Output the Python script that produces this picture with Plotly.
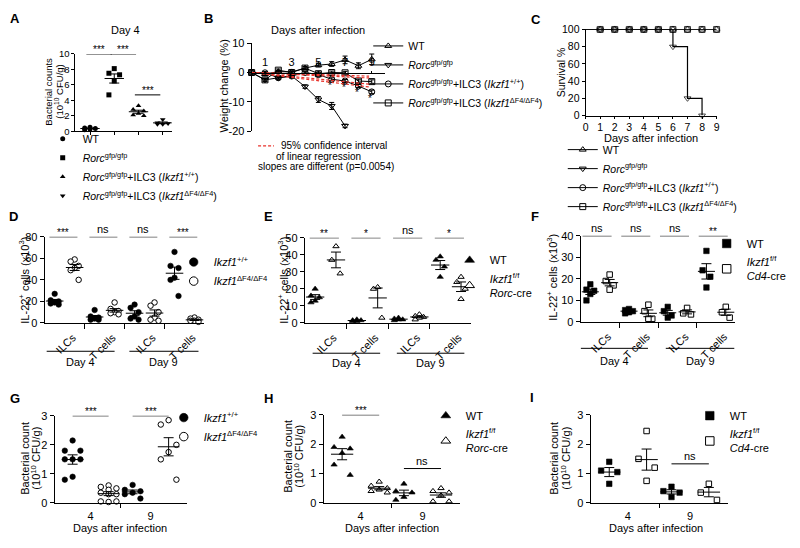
import numpy as np
import plotly.graph_objects as go

# ===================== DATA =====================
# Panel A - bacterial counts at day 4 (10^10 CFU/g)
a_wt = [0.5, 0.4, 0.35, 0.3, 0.2]
a_rorc = [8.1, 7.5, 7.3, 6.5, 4.7]
a_ilc3_wt = [3.3, 2.8, 2.6, 2.3, 2.1, 2.0]
a_ilc3_df4 = [1.5, 1.1, 1.0, 0.9, 0.9]
a_sig = ["***", "***", "***", "***"]

# Panel B - weight change (%) by day after infection
b_days = [0, 1, 2, 3, 4, 5, 6, 7, 8, 9]
b_wt = [0, -0.5, 0.3, 0.2, 1.5, 2.5, 2.9, 4.3, 2.3, 4.5]
b_wt_sem = [0, 0.5, 0.4, 0.4, 0.5, 0.6, 0.8, 1.3, 1.0, 1.8]
b_rorc_days = [0, 1, 2, 3, 4, 5, 6, 7]
b_rorc = [0, -2.5, -1.8, -1.2, -4.8, -9.2, -11.4, -18.2]
b_rorc_sem = [0, 0.6, 0.5, 0.5, 0.6, 1.0, 1.2, 0.6]
b_ilc_wt = [0, -0.1, -1.8, -1.2, 0.0, -0.7, -2.3, -2.9, -4.6, -6.6]
b_ilc_wt_sem = [0, 0.4, 0.4, 0.4, 0.4, 0.4, 0.5, 0.5, 0.5, 0.6]
b_ilc_df4 = [0, -2.5, 0.8, 0.0, 1.5, -0.4, 0.0, -0.1, -2.9, -3.1]
b_ilc_df4_sem = [0, 0.4, 0.4, 0.4, 0.5, 0.5, 0.5, 0.5, 0.6, 0.6]
b_sig = ["*", "*", "*", "*"]          # days 6-9
b_sig_days = [6, 7, 8, 9]
b_ci_slopes = [-0.14, -0.21, -0.45, -0.56]   # 95% CI of regression slopes (%/day)
b_ci_days = [0, 8.8]

# Panel C - survival (%)
c_days = [0, 1, 2, 3, 4, 5, 6, 7, 8, 9]
c_wt = [100, 100, 100, 100, 100, 100, 100, 100, 100, 100]
c_ilc_wt = [100, 100, 100, 100, 100, 100, 100, 100, 100, 100]
c_ilc_df4 = [100, 100, 100, 100, 100, 100, 100, 100, 100, 100]
c_rorc_days = [0, 1, 2, 3, 4, 5, 6, 7, 8]
c_rorc = [100, 100, 100, 100, 100, 100, 80, 20, 0]

# Panels D-F - IL-22+ cells (x10^3); groups: ILCs d4, T cells d4, ILCs d9, T cells d9
cat_labels = ["ILCs", "T cells", "ILCs", "T cells"]
d_wt = [[27, 21, 20, 19, 18, 17], [12, 6, 5, 4, 3, 3], [17, 14, 10, 6, 4, 3], [66, 53, 51, 42, 40, 25]]
d_ko = [[59, 57, 53, 51, 49, 40], [19, 13, 11, 10, 9, 8], [19, 16, 10, 5, 3, 2], [5, 4, 3, 2, 2, 1]]
d_sig = ["***", "ns", "ns", "***"]
e_wt = [[20, 16, 15, 13, 12], [2, 1.5, 1.5, 1, 1], [3, 2.5, 2, 2, 1.5], [39, 37, 33, 27]]
e_ko = [[45, 37, 29], [21, 20, 3], [5, 4, 3.5, 3, 2], [27, 24, 20, 14]]
e_sig = ["**", "*", "ns", "*"]
f_wt = [[17.5, 15, 14.5, 13, 10], [6, 5.5, 5, 4.5, 4], [7, 5, 3, 2], [33, 24, 21, 16]]
f_ko = [[22, 19, 17, 15], [8, 5, 1.5, 1.5], [6.5, 4, 3.5], [7, 4.5, 2]]
f_sig = ["ns", "ns", "ns", "**"]

# Panels G-I - bacterial count (10^10 CFU/g); days 4 and 9
day_labels = ["4", "9"]
g_wt = [[2.15, 1.8, 1.8, 1.5, 1.5, 1.5, 0.9, 0.8], [0.62, 0.45, 0.4, 0.35, 0.3, 0.15]]
g_ko = [[0.6, 0.55, 0.5, 0.45, 0.35, 0.3, 0.3, 0.05, 0.05, 0.03], [2.85, 2.7, 2.0, 1.75, 1.5, 0.8]]
g_sig = ["***", "***"]
h_wt = [[2.25, 1.9, 1.85, 1.7, 1.3, 0.95], [0.65, 0.4, 0.35, 0.2, 0.1]]
h_ko = [[0.72, 0.58, 0.5, 0.45, 0.4, 0.35], [0.5, 0.4, 0.35, 0.25, 0.05, 0.05]]
h_sig = ["***", "ns"]
i_wt = [[1.4, 1.1, 1.05, 0.65], [0.55, 0.4, 0.35, 0.2]]
i_ko = [[2.45, 1.5, 1.2, 0.75], [0.65, 0.35, 0.1]]
i_sig = ["ns", "ns"]

RORC = "<i>Rorc</i><sup>gfp/gfp</sup>"
NAMES_ABC = ["WT", RORC,
             RORC + "+ILC3 (<i>Ikzf1</i><sup>+/+</sup>)",
             RORC + "+ILC3 (<i>Ikzf1</i><sup>ΔF4/ΔF4</sup>)"]
NAMES_DG = ["<i>Ikzf1</i><sup>+/+</sup>", "<i>Ikzf1</i><sup>ΔF4/ΔF4</sup>"]
NAMES_EH = ["WT", "<i>Ikzf1</i><sup>f/f</sup><br><i>Rorc</i>-cre"]
NAMES_FI = ["WT", "<i>Ikzf1</i><sup>f/f</sup><br><i>Cd4</i>-cre"]

# ===================== HELPERS =====================
FONT = "Liberation Sans, Arial, sans-serif"
W, H = 800, 548
RED = "#e8322b"


def X(p):
    return p / W


def Y(p):
    return 1 - p / H


traces, shapes, annotations = [], [], []
layout = {}

AX = dict(showline=True, linecolor="black", linewidth=1, ticks="outside", ticklen=4,
          tickwidth=1, tickcolor="black", showgrid=False, zeroline=False,
          tickfont=dict(family=FONT, size=11, color="black"), fixedrange=True)


def axes(n, x0, x1, ytop, ybot, xr, yr, xkw=None, ykw=None):
    s = "" if n == 1 else str(n)
    xa = dict(AX)
    xa.update(domain=[X(x0), X(x1)], range=xr, anchor="y" + s)
    ya = dict(AX)
    ya.update(domain=[Y(ybot), Y(ytop)], range=yr, anchor="x" + s)
    if xkw:
        xa.update(xkw)
    if ykw:
        ya.update(ykw)
    layout["xaxis" + s] = xa
    layout["yaxis" + s] = ya
    return "x" + s, "y" + s


def text(x, y, s, size=11, angle=0, xanchor="center"):
    annotations.append(dict(xref="paper", yref="paper", x=X(x), y=Y(y), text=s,
                            showarrow=False, xanchor=xanchor, yanchor="middle",
                            textangle=angle, font=dict(family=FONT, size=size, color="black")))


PATTERN = np.array([0.0, -1.0, 1.0])


def jitter(vals, spread):
    v = np.sort(np.asarray(vals, float))[::-1]
    off = PATTERN[np.arange(len(v)) % 3] * spread
    return v, off


def mean_sem(xa, ya, xc, vals, half, cap):
    v = np.asarray(vals, float)
    m = v.mean()
    sem = v.std(ddof=1) / np.sqrt(len(v))
    traces.append(go.Scatter(
        x=[xc], y=[m], xaxis=xa, yaxis=ya, mode="markers",
        marker=dict(size=1, color="rgba(0,0,0,0)"),
        error_x=dict(type="constant", value=half, width=0, thickness=1, color="black"),
        error_y=dict(type="data", array=[sem], width=cap, thickness=1, color="black"),
        showlegend=False, hoverinfo="skip"))


def marker(sym, size, filled):
    return dict(symbol=sym, size=size, color="black" if filled else "white",
                line=dict(color="black", width=0.6 if filled else 1))


def legend_only(xa, ya, name, legend, mode, mk, line=None):
    traces.append(go.Scatter(x=[None], y=[None], xaxis=xa, yaxis=ya, mode=mode,
                             marker=mk, line=line or dict(color="black", width=1),
                             name=name, legend=legend, showlegend=True, hoverinfo="skip"))


def sig(xa, ya, x0, x1, level, label):
    shapes.append(dict(type="line", xref=xa, yref=ya, x0=x0, x1=x1, y0=level, y1=level,
                       line=dict(color="black", width=1)))
    star = "*" in label
    annotations.append(dict(xref=xa, yref=ya, x=(x0 + x1) / 2, y=level, text=label,
                            showarrow=False, yanchor="bottom", yshift=-3 if star else 0,
                            font=dict(family=FONT, size=10 if star else 11, color="black")))


def dot_panel(xa, ya, wt, ko, sym, off, spread, half, legend, names):
    for gi, (vw, vk) in enumerate(zip(wt, ko)):
        for sgn, vals, filled in ((-1, vw, True), (1, vk, False)):
            v, o = jitter(vals, spread)
            xc = gi + sgn * off
            traces.append(go.Scatter(x=xc + o, y=v, xaxis=xa, yaxis=ya, mode="markers",
                                     marker=marker(sym, 5.5, filled), showlegend=False,
                                     cliponaxis=False, hoverinfo="skip"))
            mean_sem(xa, ya, xc, vals, half, 5)
    legend_only(xa, ya, names[0], legend, "markers", marker(sym, 8.5, True))
    legend_only(xa, ya, names[1], legend, "markers", marker(sym, 8.5, False))


def legend_cfg(xpx, ytop, size):
    return dict(x=X(xpx), y=Y(ytop), xanchor="left", yanchor="top",
                bgcolor="rgba(0,0,0,0)", borderwidth=0,
                font=dict(family=FONT, size=size, color="black"),
                itemclick=False, itemdoubleclick=False, tracegroupgap=0, traceorder="normal")


# ===================== PANEL A =====================
xa, ya = axes(1, 73, 170, 49, 128, [-0.6, 3.37], [0, 10],
              xkw=dict(tickvals=[0, 1, 2, 3], showticklabels=False, ticklen=3),
              ykw=dict(tickvals=[0, 2, 4, 6, 8, 10], ticklen=3,
                       tickfont=dict(family=FONT, size=9.5, color="black")))
a_sets = [a_wt, a_rorc, a_ilc3_wt, a_ilc3_df4]
a_syms = ["circle", "square", "triangle-up", "triangle-down"]
for i, (vals, sym, nm) in enumerate(zip(a_sets, a_syms, NAMES_ABC)):
    v, o = jitter(vals, 0.22)
    traces.append(go.Scatter(x=i + o, y=v, xaxis=xa, yaxis=ya, mode="markers",
                             marker=dict(symbol=sym, size=5, color="black"),
                             showlegend=False, cliponaxis=False, hoverinfo="skip"))
    mean_sem(xa, ya, i, vals, 0.4, 5)
    legend_only(xa, ya, nm, "legend", "markers", dict(symbol=sym, size=5, color="black"))
for (p, q, lvl), lab in zip([(0, 1, 10), (1, 2, 10), (1, 3, 11), (2, 3, 4.7)], a_sig):
    sig(xa, ya, p - 0.15, q - 0.1, lvl, lab)
text(123, 25, "Day 4", 11)
text(45, 88, "Bacterial counts", 9.5, -90)
text(57, 88, "(10<sup>10</sup> CFU/g)", 9.5, -90)
layout["legend"] = legend_cfg(40, 121, 10.5)

# ===================== PANEL B =====================
xa, ya = axes(2, 250.5, 385, 38, 128, [0, 10], [-20, 10],
              xkw=dict(anchor="free", position=Y(68), side="top", tickvals=[1, 3, 5, 7, 9],
                       ticklen=2),
              ykw=dict(tickvals=[10, 0, -10, -20], ticktext=["10", "0", "-10", "-20"]))
b_series = [(b_days, b_wt, b_wt_sem, "triangle-up-open"),
            (b_rorc_days, b_rorc, b_rorc_sem, "triangle-down-open"),
            (b_days, b_ilc_wt, b_ilc_wt_sem, "circle-open"),
            (b_days, b_ilc_df4, b_ilc_df4_sem, "square-open")]
for (dx, dy, de, sym), nm in zip(b_series, NAMES_ABC):
    traces.append(go.Scatter(x=dx, y=dy, xaxis=xa, yaxis=ya, mode="lines+markers",
                             line=dict(color="black", width=1),
                             marker=dict(symbol=sym, size=6, color="black", line=dict(width=1)),
                             error_y=dict(type="data", array=de, width=2.5, thickness=1, color="black"),
                             showlegend=False, cliponaxis=False, hoverinfo="skip"))
    legend_only(xa, ya, nm, "legend2", "lines+markers",
                dict(symbol=sym, size=6, color="black", line=dict(width=1)))
for s in b_ci_slopes:
    traces.append(go.Scatter(x=b_ci_days, y=[s * d for d in b_ci_days], xaxis=xa, yaxis=ya,
                             mode="lines", line=dict(color=RED, width=1.2, dash="3px,2px"),
                             showlegend=False, hoverinfo="skip"))
ilc_by_day = dict(zip(b_days, b_ilc_wt))
for d, lab in zip(b_sig_days, b_sig):
    annotations.append(dict(xref=xa, yref=ya, x=d - 0.1, y=ilc_by_day[d] - 2.2, text=lab,
                            showarrow=False, font=dict(family=FONT, size=10, color="black")))
text(317, 25, "Days after infection", 11)
text(223, 82, "Weight change (%)", 11, -90)
shapes.append(dict(type="line", xref="paper", yref="paper", x0=X(257), x1=X(273),
                   y0=Y(143), y1=Y(143), line=dict(color=RED, width=1.2, dash="3px,2px")))
text(278, 143, "95% confidence interval", 10, xanchor="left")
text(318, 154, "of linear regression", 10)
text(325, 164, "slopes are different (p=0.0054)", 10)
layout["legend2"] = legend_cfg(368, 26, 10.5)

# ===================== PANEL C =====================
xa, ya = axes(3, 587, 719, 24, 112, [0, 9], [0, 100],
              xkw=dict(dtick=1, ticklen=2, tickfont=dict(family=FONT, size=10.5, color="black")),
              ykw=dict(dtick=20, ticklen=3, tickfont=dict(family=FONT, size=10.5, color="black")))
c_series = [(c_days, c_wt, "triangle-up-open"),
            (c_rorc_days, c_rorc, "triangle-down-open"),
            (c_days, c_ilc_wt, "circle-open"),
            (c_days, c_ilc_df4, "square-open")]
for (dx, dy, sym), nm in zip(c_series, NAMES_ABC):
    sizes = [0] + [6] * (len(dx) - 1)
    traces.append(go.Scatter(x=dx, y=dy, xaxis=xa, yaxis=ya, mode="lines+markers",
                             line=dict(color="black", width=1.2, shape="hv"),
                             marker=dict(symbol=sym, size=sizes, color="black", line=dict(width=1)),
                             showlegend=False, cliponaxis=False, hoverinfo="skip"))
    legend_only(xa, ya, nm, "legend3", "lines+markers",
                dict(symbol=sym, size=6, color="black", line=dict(width=1)))
text(653, 135, "Days after infection", 11)
text(562, 68, "Survival %", 10.5, -90)
layout["legend3"] = legend_cfg(564, 132, 10.5)

# ===================== PANELS D-F =====================
cat_x = dict(tickvals=[0, 1, 2, 3], ticktext=cat_labels, ticks="", tickangle=-45,
             ticklabelshift=8, ticklabelstandoff=3,
             minor=dict(tickvals=[0.5, 1.5, 2.5], ticks="outside", ticklen=5,
                        tickcolor="black", tickwidth=1))
il22 = "IL-22<sup>+</sup> cells (x10<sup>3</sup>)"

panels_def = [
    (4, 42, 203, 236, 324, 80, 20, d_wt, d_ko, "circle", d_sig, NAMES_DG, "legend4",
     (172, 247), 21, 280, (-0.38, 0.32), [(-0.45, 1.25), (1.62, 3.35)], 353, 363),
    (5, 304, 472, 237, 324, 50, 10, e_wt, e_ko, "triangle-up", e_sig, NAMES_EH, "legend5",
     (450, 245), 282, 280, (-0.38, 0.32), [(-0.31, 1.31), (1.71, 3.33)], 355, 364),
    (6, 582, 738, 235, 323, 40, 10, f_wt, f_ko, "square", f_sig, NAMES_FI, "legend6",
     (709, 228), 553, 277, (-0.45, 0.3), [(-0.5, 1.24), (1.7, 3.47)], 350, 362),
]
for (n, x0, x1, yt, yb, ymax, dt, wt, ko, sym, sg, names, leg, lpos, ytx, yty,
     span, brackets, by, bty) in panels_def:
    xa, ya = axes(n, x0, x1, yt, yb, [-0.5, 3.5], [0, ymax], xkw=cat_x, ykw=dict(dtick=dt))
    dot_panel(xa, ya, wt, ko, sym, 0.25, 0.1, 0.22, leg, names)
    for gi, lab in enumerate(sg):
        sig(xa, ya, gi + span[0], gi + span[1], ymax, lab)
    for (bx0, bx1), lab in zip(brackets, ["Day 4", "Day 9"]):
        shapes.append(dict(type="line", xref=xa, yref="paper", x0=bx0, x1=bx1,
                           y0=Y(by), y1=Y(by), line=dict(color="black", width=1)))
        annotations.append(dict(xref=xa, yref="paper", x=(bx0 + bx1) / 2, y=Y(bty + 1),
                                text=lab, showarrow=False, yanchor="middle",
                                font=dict(family=FONT, size=11, color="black")))
    text(ytx, yty, il22, 11, -90)
    layout[leg] = legend_cfg(lpos[0], lpos[1], 11)

# ===================== PANELS G-I =====================
day_x = dict(tickvals=[0, 1], ticktext=day_labels, ticks="", ticklabelstandoff=3,
             minor=dict(tickvals=[0.5], ticks="outside", ticklen=4, tickcolor="black",
                        tickwidth=1))
panels_ghi = [
    (7, 52, 185, 419, 508, g_wt, g_ko, "circle", g_sig, [3.0, 3.0], NAMES_DG, "legend7",
     (162, 406), (22, 33), 462, 118),
    (8, 323, 460, 418, 508, h_wt, h_ko, "triangle-up", h_sig, [3.0, 1.17], NAMES_EH, "legend8",
     (426, 404), (287, 298), 460, 392),
    (9, 592, 730, 418, 508, i_wt, i_ko, "square", i_sig, [3.05, 1.33], NAMES_FI, "legend9",
     (692, 404), (555, 567), 462, 658),
]
for (n, x0, x1, yt, yb, wt, ko, sym, sg, levels, names, leg, lpos, ytx, yty, xtx) in panels_ghi:
    xa, ya = axes(n, x0, x1, yt, yb, [-0.6, 1.6], [0, 3], xkw=day_x, ykw=dict(dtick=1))
    dot_panel(xa, ya, wt, ko, sym, 0.3, 0.13, 0.18, leg, names)
    for gi, (lab, lvl) in enumerate(zip(sg, levels)):
        sig(xa, ya, gi - 0.3, gi + 0.3, lvl, lab)
    text(ytx[0], yty, "Bacterial count", 11, -90)
    text(ytx[1], yty, "(10<sup>10</sup> CFU/g)", 11, -90)
    text(xtx, 534, "Days after infection", 11)
    layout[leg] = legend_cfg(lpos[0], lpos[1], 11)

# ===================== PANEL LETTERS =====================
for lt, px, py in [("A", 12, 13), ("B", 207, 13), ("C", 537, 14), ("D", 11, 215),
                   ("E", 268, 215), ("F", 536, 215), ("G", 12, 401), ("H", 268, 401),
                   ("I", 533, 400)]:
    text(px, py, "<b>" + lt + "</b>", 13)

fig = go.Figure(data=traces)
fig.update_layout(width=W, height=H, margin=dict(l=0, r=0, t=0, b=0),
                  paper_bgcolor="white", plot_bgcolor="white", showlegend=True,
                  font=dict(family=FONT, size=11, color="black"),
                  shapes=shapes, annotations=annotations, **layout)
fig.write_html("out.html", config={"displayModeBar": False},
               post_script="document.body.style.margin='0';document.body.style.overflow='hidden';")
